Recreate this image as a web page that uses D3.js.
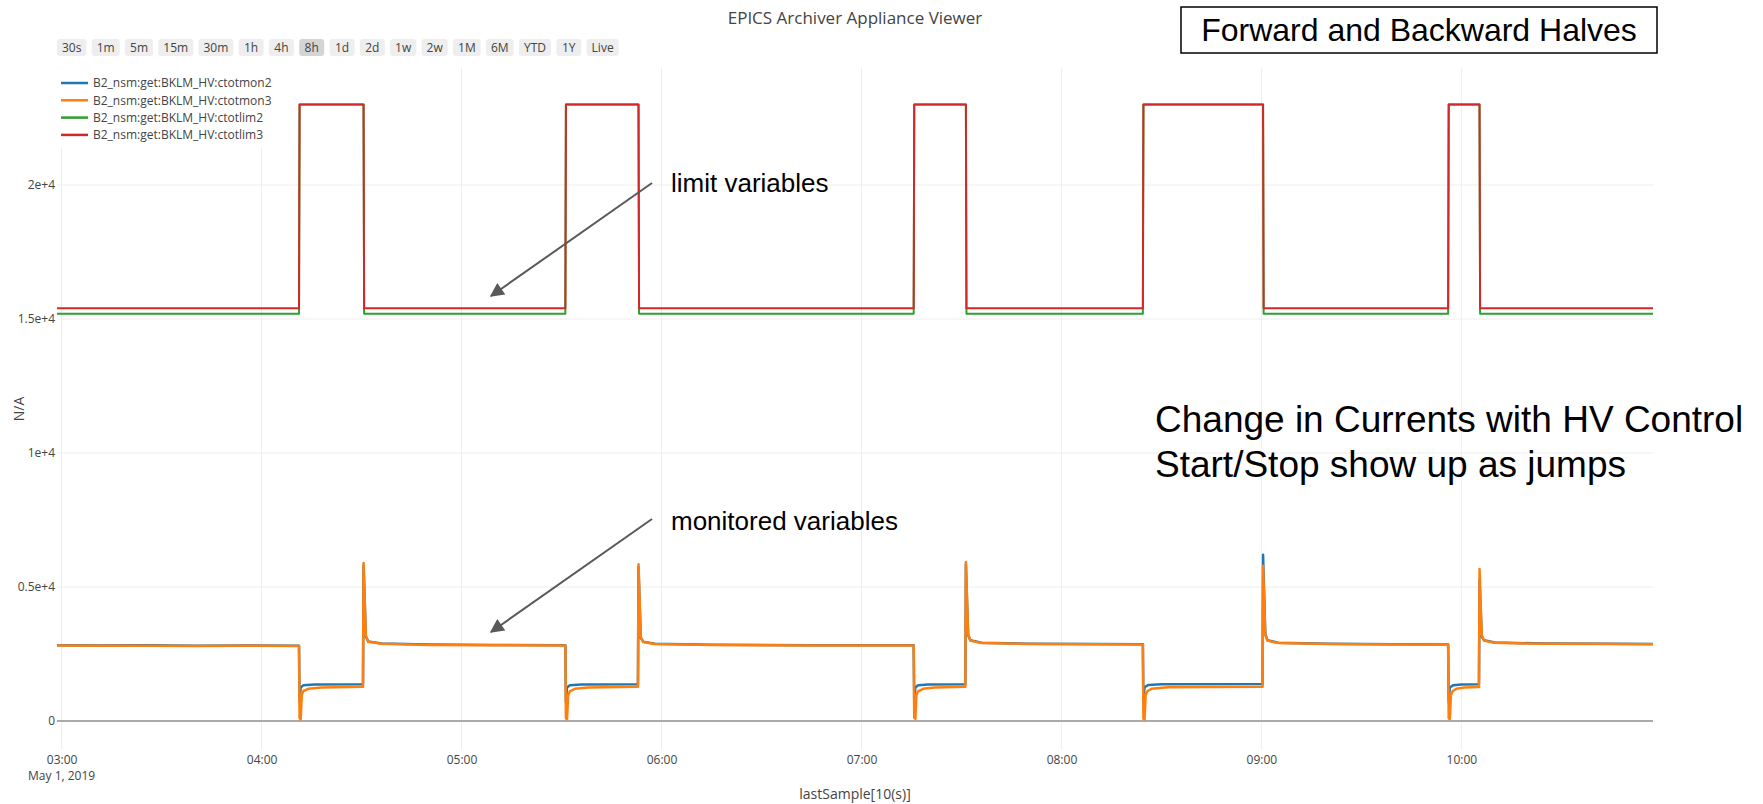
<!DOCTYPE html>
<html>
<head>
<meta charset="utf-8">
<script src="https://cdn.jsdelivr.net/npm/d3@7/dist/d3.min.js"></script>
<style>
  html, body { margin: 0; padding: 0; background: #fff; }
  svg { display: block; }
</style>
</head>
<body>
<div id="chart"></div>
<script>
// range selector buttons
const rangeButtons = ["30s", "1m", "5m", "15m", "30m", "1h", "4h", "8h", "1d", "2d", "1w", "2w", "1M", "6M", "YTD", "1Y", "Live"];
const activeButton = "8h";

const seriesNames = [
  "B2_nsm:get:BKLM_HV:ctotmon2",
  "B2_nsm:get:BKLM_HV:ctotmon3",
  "B2_nsm:get:BKLM_HV:ctotlim2",
  "B2_nsm:get:BKLM_HV:ctotlim3"
];
const seriesColors = ["#1f77b4", "#ff7f0e", "#2ca02c", "#d62728"];

const xTicks = ["03:00", "04:00", "05:00", "06:00", "07:00", "08:00", "09:00", "10:00"];
const yTicks = [0, 5000, 10000, 15000, 20000];
const yTickLabels = ["0", "0.5e+4", "1e+4", "1.5e+4", "2e+4"];
const timeRange = ["02:58:37", "10:57:30"];

// [time, value] samples, May 1 2019
const ctotmon2 = [
  ["02:58:37", 2825], ["03:12:00", 2815], ["03:25:00", 2822], ["03:40:00", 2812], ["03:55:00", 2818], ["04:11:14", 2812],
  ["04:11:24", 700], ["04:11:44", 1250], ["04:12:30", 1330], ["04:16:00", 1360], ["04:30:26", 1375],
  ["04:30:36", 5800], ["04:30:56", 4500], ["04:31:16", 3150], ["04:32:00", 2970], ["04:36:00", 2890], ["04:50:00", 2850], ["05:10:00", 2835], ["05:31:09", 2830],
  ["05:31:19", 700], ["05:31:39", 1250], ["05:32:30", 1330], ["05:36:00", 1360], ["05:52:56", 1375],
  ["05:53:06", 5750], ["05:53:26", 4400], ["05:53:46", 3100], ["05:54:30", 2960], ["05:58:00", 2880], ["06:15:00", 2845], ["06:45:00", 2830], ["07:15:40", 2825],
  ["07:15:50", 700], ["07:16:10", 1250], ["07:17:00", 1330], ["07:20:00", 1360], ["07:31:10", 1375],
  ["07:31:20", 5850], ["07:31:40", 4500], ["07:32:00", 3200], ["07:32:40", 3010], ["07:36:00", 2920], ["07:50:00", 2880], ["08:10:00", 2870], ["08:24:26", 2860],
  ["08:24:36", 700], ["08:24:56", 1260], ["08:26:00", 1340], ["08:30:00", 1370], ["09:00:20", 1385],
  ["09:00:30", 6200], ["09:00:50", 4700], ["09:01:10", 3250], ["09:01:50", 3010], ["09:05:00", 2920], ["09:20:00", 2880], ["09:40:00", 2865], ["09:56:02", 2855],
  ["09:56:12", 700], ["09:56:32", 1250], ["09:57:30", 1330], ["10:00:00", 1360], ["10:05:17", 1375],
  ["10:05:27", 5260], ["10:05:47", 4200], ["10:06:07", 3150], ["10:06:50", 3010], ["10:10:00", 2930], ["10:25:00", 2890], ["10:45:00", 2880], ["10:57:30", 2875]
];

const ctotmon3 = [
  ["02:58:37", 2815], ["03:12:00", 2805], ["03:25:00", 2812], ["03:40:00", 2800], ["03:55:00", 2808], ["04:11:14", 2800],
  ["04:11:24", 110], ["04:11:44", 60], ["04:12:04", 980], ["04:12:34", 1120], ["04:14:00", 1200], ["04:18:00", 1250], ["04:30:26", 1275],
  ["04:30:36", 5900], ["04:30:56", 4600], ["04:31:16", 3200], ["04:32:00", 2960], ["04:36:00", 2880], ["04:50:00", 2840], ["05:10:00", 2825], ["05:31:09", 2820],
  ["05:31:19", 100], ["05:31:39", 70], ["05:31:59", 960], ["05:32:29", 1110], ["05:34:00", 1200], ["05:38:00", 1250], ["05:52:56", 1275],
  ["05:53:06", 5850], ["05:53:26", 4500], ["05:53:46", 3150], ["05:54:30", 2950], ["05:58:00", 2870], ["06:15:00", 2835], ["06:45:00", 2820], ["07:15:40", 2815],
  ["07:15:50", 120], ["07:16:10", 80], ["07:16:30", 970], ["07:17:00", 1110], ["07:18:30", 1200], ["07:22:00", 1250], ["07:31:10", 1275],
  ["07:31:20", 5930], ["07:31:40", 4600], ["07:32:00", 3250], ["07:32:40", 3000], ["07:36:00", 2910], ["07:50:00", 2870], ["08:10:00", 2860], ["08:24:26", 2850],
  ["08:24:36", 80], ["08:24:56", 60], ["08:25:16", 970], ["08:25:46", 1110], ["08:27:00", 1200], ["08:32:00", 1255], ["09:00:20", 1280],
  ["09:00:30", 5790], ["09:00:50", 4500], ["09:01:10", 3200], ["09:01:50", 3000], ["09:05:00", 2910], ["09:20:00", 2870], ["09:40:00", 2855], ["09:56:02", 2845],
  ["09:56:12", 100], ["09:56:32", 70], ["09:56:52", 960], ["09:57:22", 1110], ["09:58:30", 1200], ["10:01:00", 1250], ["10:05:17", 1270],
  ["10:05:27", 5670], ["10:05:47", 4400], ["10:06:07", 3200], ["10:06:50", 3000], ["10:10:00", 2920], ["10:25:00", 2880], ["10:45:00", 2870], ["10:57:30", 2865]
];

const ctotlim2 = [
  ["02:58:37", 15200], ["04:11:14", 15200], ["04:11:24", 23000], ["04:30:36", 23000], ["04:30:46", 15200],
  ["05:31:09", 15200], ["05:31:19", 23000], ["05:53:06", 23000], ["05:53:16", 15200],
  ["07:15:40", 15200], ["07:15:50", 23000], ["07:31:20", 23000], ["07:31:30", 15200],
  ["08:24:26", 15200], ["08:24:36", 23000], ["09:00:30", 23000], ["09:00:40", 15200],
  ["09:56:02", 15200], ["09:56:12", 23000], ["10:05:27", 23000], ["10:05:37", 15200], ["10:57:30", 15200]
];

const ctotlim3 = [
  ["02:58:37", 15400], ["04:11:14", 15400], ["04:11:24", 23000], ["04:30:36", 23000], ["04:30:46", 15400],
  ["05:31:09", 15400], ["05:31:19", 23000], ["05:53:06", 23000], ["05:53:16", 15400],
  ["07:15:40", 15400], ["07:15:50", 23000], ["07:31:20", 23000], ["07:31:30", 15400],
  ["08:24:26", 15400], ["08:24:36", 23000], ["09:00:30", 23000], ["09:00:40", 15400],
  ["09:56:02", 15400], ["09:56:12", 23000], ["10:05:27", 23000], ["10:05:37", 15400], ["10:57:30", 15400]
];

const W = 1763, H = 804;
const plot = { left: 57, right: 1653, top: 68, bottom: 750 };
const font = "'Open Sans', sans-serif";
const arial = "'Liberation Sans', Arial, sans-serif";

const parseT = d3.utcParse("%Y-%m-%d %H:%M:%S");
const toDate = t => parseT("2019-05-01 " + t);

const svg = d3.select("#chart").append("svg")
  .attr("width", W)
  .attr("height", H);

const x = d3.scaleUtc()
  .domain(timeRange.map(toDate))
  .range([plot.left, plot.right]);

const y = d3.scaleLinear()
  .domain([-1082, 24366])
  .range([plot.bottom, plot.top]);

// grid
svg.append("g")
  .selectAll("line")
  .data(xTicks)
  .join("line")
  .attr("x1", d => x(toDate(d + ":00")))
  .attr("x2", d => x(toDate(d + ":00")))
  .attr("y1", plot.top)
  .attr("y2", plot.bottom)
  .attr("stroke", "#eee");

svg.append("g")
  .selectAll("line")
  .data(yTicks.filter(d => d !== 0))
  .join("line")
  .attr("x1", plot.left)
  .attr("x2", plot.right)
  .attr("y1", d => y(d))
  .attr("y2", d => y(d))
  .attr("stroke", "#eee");

// zero line
svg.append("line")
  .attr("x1", plot.left)
  .attr("x2", plot.right)
  .attr("y1", y(0))
  .attr("y2", y(0))
  .attr("stroke", "#aaa")
  .attr("stroke-width", 2);

// axes
const xAxis = svg.append("g")
  .attr("transform", `translate(0,${plot.bottom})`)
  .call(d3.axisBottom(x)
    .tickValues(xTicks.map(d => toDate(d + ":00")))
    .tickFormat(d3.utcFormat("%H:%M"))
    .tickSize(0)
    .tickPadding(5));
xAxis.select(".domain").remove();
xAxis.selectAll("text")
  .attr("fill", "#444")
  .style("font-family", font)
  .style("font-size", "12px");

svg.append("text")
  .attr("x", x(toDate("03:00:00")))
  .attr("y", 780)
  .attr("text-anchor", "middle")
  .attr("fill", "#444")
  .style("font-family", font)
  .style("font-size", "12px")
  .text("May 1, 2019");

const yAxis = svg.append("g")
  .attr("transform", `translate(${plot.left},0)`)
  .call(d3.axisLeft(y)
    .tickValues(yTicks)
    .tickFormat((d, i) => yTickLabels[i])
    .tickSize(0)
    .tickPadding(2));
yAxis.select(".domain").remove();
yAxis.selectAll("text")
  .attr("fill", "#444")
  .style("font-family", font)
  .style("font-size", "12px");

// axis titles
svg.append("text")
  .attr("x", (plot.left + plot.right) / 2)
  .attr("y", 799)
  .attr("text-anchor", "middle")
  .attr("fill", "#444")
  .style("font-family", font)
  .style("font-size", "14px")
  .text("lastSample[10(s)]");

svg.append("text")
  .attr("transform", `translate(24,${(plot.top + plot.bottom) / 2}) rotate(-90)`)
  .attr("text-anchor", "middle")
  .attr("fill", "#444")
  .style("font-family", font)
  .style("font-size", "14px")
  .text("N/A");

// chart title
svg.append("text")
  .attr("x", (plot.left + plot.right) / 2)
  .attr("y", 24)
  .attr("text-anchor", "middle")
  .attr("fill", "#444")
  .style("font-family", font)
  .style("font-size", "17px")
  .text("EPICS Archiver Appliance Viewer");

// lines
const defs = svg.append("defs");
defs.append("clipPath")
  .attr("id", "clip")
  .append("rect")
  .attr("x", plot.left)
  .attr("y", plot.top)
  .attr("width", plot.right - plot.left)
  .attr("height", plot.bottom - plot.top);

const line = d3.line()
  .x(d => x(toDate(d[0])))
  .y(d => y(d[1]));

const allSeries = [ctotmon2, ctotmon3, ctotlim2, ctotlim3];

svg.append("g")
  .attr("clip-path", "url(#clip)")
  .selectAll("path")
  .data(allSeries)
  .join("path")
  .attr("d", d => line(d))
  .attr("fill", "none")
  .attr("stroke", (d, i) => seriesColors[i])
  .attr("stroke-width", (d, i) => i < 2 ? 2.5 : 2)
  .attr("stroke-linejoin", "round");

// legend
const legend = svg.append("g");
legend.append("rect")
  .attr("x", plot.left + 1)
  .attr("y", plot.top + 1)
  .attr("width", 225)
  .attr("height", 78)
  .attr("fill", "#fff");

const legendItems = legend.selectAll("g")
  .data(seriesNames)
  .join("g")
  .attr("transform", (d, i) => `translate(61,${83 + i * 17.3})`);

legendItems.append("line")
  .attr("x1", 0)
  .attr("x2", 27)
  .attr("stroke", (d, i) => seriesColors[i])
  .attr("stroke-width", 2.5);

legendItems.append("text")
  .attr("x", 32)
  .attr("dy", "0.35em")
  .attr("fill", "#444")
  .style("font-family", font)
  .style("font-size", "12px")
  .text(d => d);

// range selector buttons
const btnG = svg.append("g").attr("transform", "translate(57,39)");
let bx = 0;
rangeButtons.forEach(label => {
  const g = btnG.append("g").attr("transform", `translate(${bx},0)`);
  const rect = g.append("rect")
    .attr("height", 17)
    .attr("rx", 3)
    .attr("fill", label === activeButton ? "#d4d4d4" : "#eee");
  const txt = g.append("text")
    .attr("y", 8.5)
    .attr("dy", "0.35em")
    .attr("text-anchor", "middle")
    .attr("fill", "#444")
    .style("font-family", font)
    .style("font-size", "12px")
    .text(label);
  const w = Math.max(txt.node().getComputedTextLength() + 10, 25);
  rect.attr("width", w);
  txt.attr("x", w / 2);
  bx += w + 5.3;
});

// slide annotations
svg.append("rect")
  .attr("x", 1181)
  .attr("y", 7)
  .attr("width", 476)
  .attr("height", 46)
  .attr("fill", "#fff")
  .attr("stroke", "#000")
  .attr("stroke-width", 1.5);

svg.append("text")
  .attr("x", 1419)
  .attr("y", 30)
  .attr("dy", "0.35em")
  .attr("text-anchor", "middle")
  .attr("fill", "#000")
  .style("font-family", arial)
  .style("font-size", "32px")
  .text("Forward and Backward Halves");

svg.append("g")
  .selectAll("text")
  .data(["Change in Currents with HV Control", "Start/Stop show up as jumps"])
  .join("text")
  .attr("x", 1155)
  .attr("y", (d, i) => 419 + i * 45)
  .attr("dy", "0.35em")
  .attr("fill", "#000")
  .style("font-family", arial)
  .style("font-size", "37px")
  .text(d => d);

defs.append("marker")
  .attr("id", "arrow")
  .attr("viewBox", "0 0 10 10")
  .attr("refX", 9)
  .attr("refY", 5)
  .attr("markerWidth", 8)
  .attr("markerHeight", 7)
  .attr("orient", "auto")
  .append("path")
  .attr("d", "M0,0 L10,5 L0,10 z")
  .attr("fill", "#595959");

const callouts = [
  { label: "limit variables", tx: 671, ty: 183, from: [652, 183], to: [491, 296] },
  { label: "monitored variables", tx: 671, ty: 521, from: [652, 519], to: [491, 632] }
];

callouts.forEach(c => {
  svg.append("line")
    .attr("x1", c.from[0])
    .attr("y1", c.from[1])
    .attr("x2", c.to[0])
    .attr("y2", c.to[1])
    .attr("stroke", "#595959")
    .attr("stroke-width", 2)
    .attr("marker-end", "url(#arrow)");
  svg.append("text")
    .attr("x", c.tx)
    .attr("y", c.ty)
    .attr("dy", "0.35em")
    .attr("fill", "#000")
    .style("font-family", arial)
    .style("font-size", "26px")
    .text(c.label);
});
</script>
</body>
</html>
